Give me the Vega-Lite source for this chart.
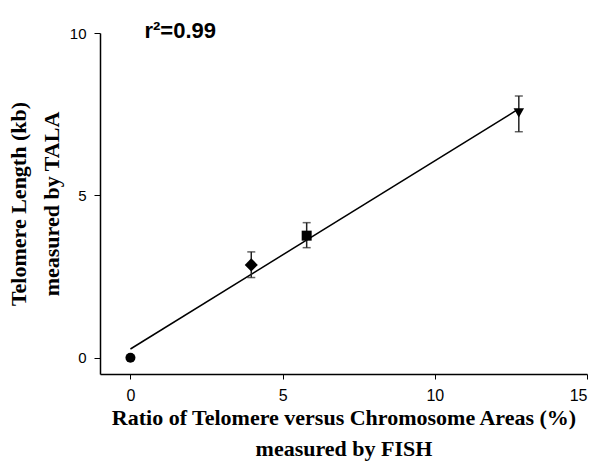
{
  "$schema": "https://vega.github.io/schema/vega-lite/v6.json",
  "width": 487,
  "height": 341,
  "autosize": {"type": "none"},
  "padding": {"left": 100, "top": 33, "right": 11, "bottom": 88},
  "background": "white",
  "config": {
    "view": {"stroke": null},
    "axis": {
      "grid": false,
      "domainColor": "black",
      "domainWidth": 1.5,
      "tickColor": "black",
      "tickWidth": 1,
      "labelColor": "black",
      "titleColor": "black",
      "labelFont": "Liberation Sans",
      "titleFont": "Liberation Serif",
      "titleFontWeight": "bold",
      "titleFontSize": 22
    }
  },
  "datasets": {
    "pts": [
      {"ratio": 0, "length": 0, "group": "A"},
      {"ratio": 3.97, "length": 2.86, "lo": 2.47, "hi": 3.26, "group": "B"},
      {"ratio": 5.79, "length": 3.76, "lo": 3.39, "hi": 4.16, "group": "C"},
      {"ratio": 12.76, "length": 7.54, "lo": 6.96, "hi": 8.06, "group": "D"}
    ],
    "fit": [
      {"ratio": 0, "length": 0.27},
      {"ratio": 12.7, "length": 7.63}
    ],
    "note": [
      {"ratio": 0.46, "length": 9.85, "label": "r²=0.99"}
    ]
  },
  "layer": [
    {
      "data": {"name": "fit"},
      "mark": {"type": "line", "color": "black", "strokeWidth": 1.5},
      "encoding": {
        "x": {
          "field": "ratio",
          "type": "quantitative",
          "scale": {"domain": [-1, 15], "nice": false, "zero": false},
          "axis": {
            "values": [0, 5, 10, 15],
            "tickSize": 5,
            "labelFontSize": 16,
            "labelPadding": 8,
            "title": ["Ratio of Telomere versus Chromosome Areas (%)", "measured by FISH"],
            "titleLineHeight": 31,
            "titlePadding": 4
          }
        },
        "y": {
          "field": "length",
          "type": "quantitative",
          "scale": {"domain": [-0.5, 10], "nice": false, "zero": false},
          "axis": {
            "values": [0, 5, 10],
            "tickSize": 6,
            "labelFontSize": 15,
            "labelPadding": 8,
            "title": ["Telomere Length (kb)", "measured by TALA"],
            "titleLineHeight": 33,
            "titlePadding": 6
          }
        }
      }
    },
    {
      "data": {"name": "pts"},
      "transform": [{"filter": "isValid(datum.lo)"}],
      "mark": {"type": "rule", "color": "#222222", "strokeWidth": 1.5},
      "encoding": {
        "x": {"field": "ratio", "type": "quantitative"},
        "y": {"field": "lo", "type": "quantitative"},
        "y2": {"field": "hi"}
      }
    },
    {
      "data": {"name": "pts"},
      "transform": [{"filter": "isValid(datum.lo)"}],
      "mark": {"type": "tick", "orient": "horizontal", "color": "#222222", "size": 8, "thickness": 1.5},
      "encoding": {
        "x": {"field": "ratio", "type": "quantitative"},
        "y": {"field": "lo", "type": "quantitative"}
      }
    },
    {
      "data": {"name": "pts"},
      "transform": [{"filter": "isValid(datum.hi)"}],
      "mark": {"type": "tick", "orient": "horizontal", "color": "#222222", "size": 8, "thickness": 1.5},
      "encoding": {
        "x": {"field": "ratio", "type": "quantitative"},
        "y": {"field": "hi", "type": "quantitative"}
      }
    },
    {
      "data": {"name": "pts"},
      "mark": {"type": "point", "filled": true, "color": "black", "opacity": 1},
      "encoding": {
        "x": {"field": "ratio", "type": "quantitative"},
        "y": {"field": "length", "type": "quantitative"},
        "shape": {
          "field": "group",
          "type": "nominal",
          "scale": {"domain": ["A", "B", "C", "D"], "range": ["circle", "diamond", "square", "triangle-down"]},
          "legend": null
        },
        "size": {
          "field": "group",
          "type": "nominal",
          "scale": {"type": "ordinal", "domain": ["A", "B", "C", "D"], "range": [100, 170, 100, 110]},
          "legend": null
        }
      }
    },
    {
      "data": {"name": "note"},
      "mark": {"type": "text", "align": "left", "baseline": "alphabetic", "font": "Liberation Sans", "fontWeight": "bold", "fontSize": 22, "color": "black"},
      "encoding": {
        "x": {"field": "ratio", "type": "quantitative"},
        "y": {"field": "length", "type": "quantitative"},
        "text": {"field": "label"}
      }
    }
  ]
}
